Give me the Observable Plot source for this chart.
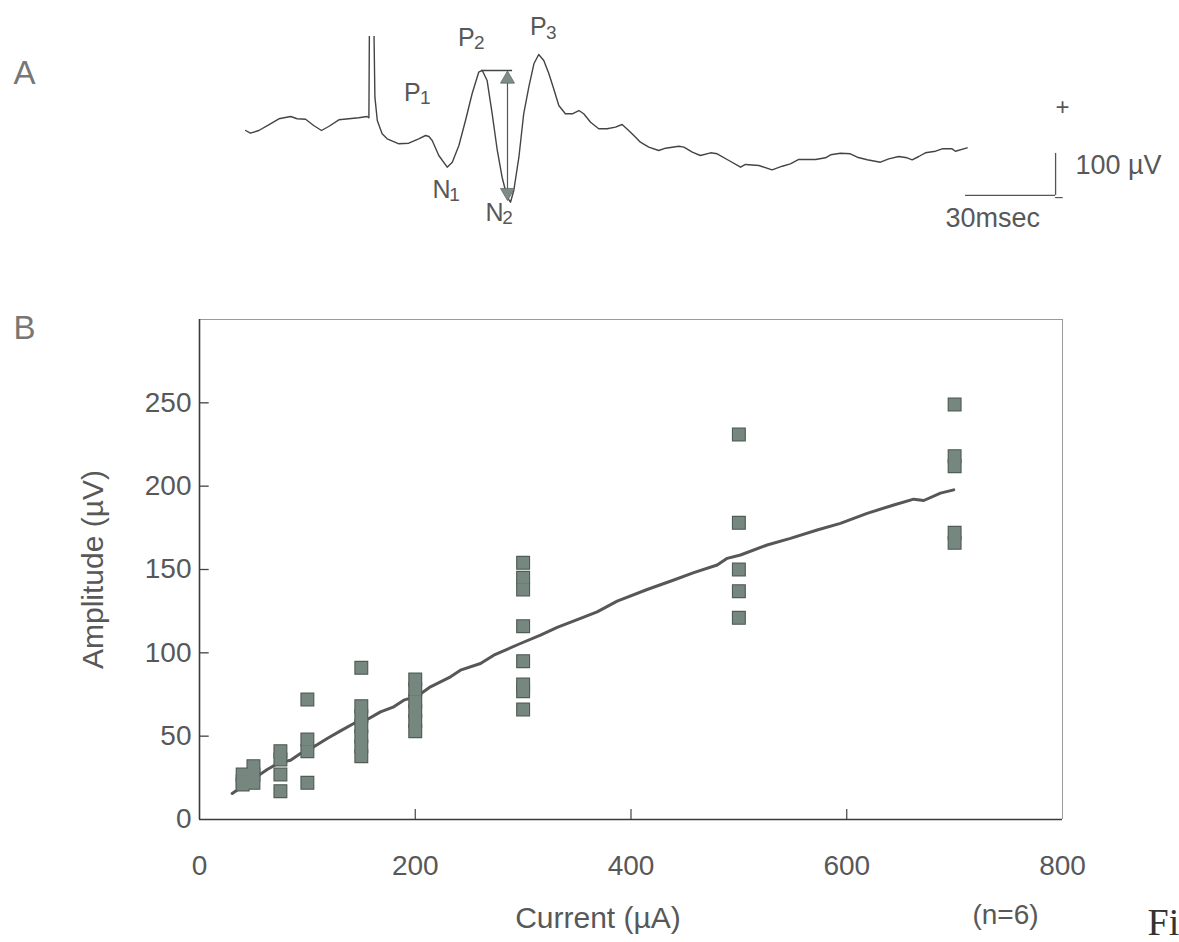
<!DOCTYPE html>
<html><head><meta charset="utf-8">
<script src="https://cdn.jsdelivr.net/npm/d3@7"></script>
<script src="https://cdn.jsdelivr.net/npm/@observablehq/plot@0.6"></script>
<style>
html,body{margin:0;padding:0;background:#fff;}
#fig{position:relative;width:1179px;height:942px;overflow:hidden;background:#fff;}
#fig svg{position:absolute;left:0;}
</style></head><body><div id="fig"></div>
<script>
// ---------- Panel A: evoked potential trace (time in ms, voltage in µV) ----------
const traceTime = [
  0.7, 2.3, 5.1, 8.4, 11.8, 15.7, 17.9, 20.7, 23.4, 26.0,
  28.4, 31.8, 35.1, 38.4, 41.2, 41.8, 42.0, 43.4, 43.8, 44.6,
  46.2, 47.9, 51.8, 55.1, 58.4, 60.7, 61.8, 62.9, 65.1, 67.9,
  69.6, 71.8, 74.0, 76.2, 78.4, 79.6, 81.2, 82.9, 84.6, 86.2,
  87.9, 89.0, 90.1, 91.8, 93.4, 95.1, 96.8, 98.4, 100.1, 101.8,
  103.4, 105.1, 107.3, 109.6, 111.8, 113.4, 115.7, 118.4, 121.2, 124.0,
  126.2, 128.4, 130.7, 132.3, 135.1, 138.4, 140.7, 145.1, 146.8, 149.6,
  152.3, 155.7, 157.9, 161.8, 165.7, 167.3, 171.8, 176.2, 179.6, 182.3,
  185.1, 190.7, 194.0, 195.7, 199.0, 202.3, 204.6, 207.9, 212.3, 215.1,
  218.4, 221.2, 222.9, 225.1, 227.3, 230.7, 232.9, 236.2, 237.3, 241.2
];
const traceVolt = [
  47.6, 41.2, 47.6, 61.2, 75.5, 81.0, 75.5, 74.5, 59.5, 47.6,
  57.1, 73.1, 75.5, 77.9, 81.0, 77.9, 330, 330, 126.9, 71.4,
  39.8, 27.9, 16.0, 17.4, 27.9, 35.7, 33.3, 23.8, -11.9, -39.8,
  -27.9, 11.9, 71.4, 135.0, 186.4, 190.5, 166.7, 87.4, 0, -63.6,
  -111.2, -123.1, -95.2, -16.0, 87.4, 150.7, 206.4, 228.6, 214.3, 182.6,
  146.9, 107.1, 87.4, 87.4, 95.2, 87.4, 67.4, 51.7, 51.7, 55.5,
  61.9, 47.6, 31.7, 19.8, 7.9, 0, 5.5, 10.2, 7.9, -4.0,
  -11.9, -5.5, -7.9, -23.8, -39.8, -33.3, -35.7, -46.0, -37.4, -31.7,
  -21.4, -21.4, -17.4, -10.2, -6.4, -7.9, -16.0, -22.1, -27.9, -19.8,
  -14.3, -17.4, -22.1, -14.3, -5.5, -1.7, 4.0, 4.0, -1.7, 6.4
];
// peak labels
const peakLetters = ["P", "P", "P", "N", "N"];
const peakSubs    = ["1", "2", "3", "1", "2"];
const peakTime    = [56.3, 74.3, 98.3, 66.0, 83.7];
const peakVolt    = [138, 269, 293, -95, -148];
// N2-P2 amplitude marker
const ampTime = 88.0;
const ampTopVolt = 190.5;
const ampBottomVolt = -119;
const capTime = [79.3, 89.7];
// scale bar: 30 ms, 100 µV
const barTime = [240.7, 270.7];
const barVolt = [-107, -7];

// ---------- Panel B: amplitude vs current ----------
const currents = [40, 50, 75, 100, 150, 200, 300, 500, 700];
const amplitudes = [
  [27, 23, 21],
  [32, 27, 22],
  [41, 36, 27, 17],
  [72, 48, 41, 22],
  [91, 68, 62, 56, 50, 44, 38],
  [84, 78, 71, 65, 59, 53],
  [154, 145, 138, 116, 95, 81, 77, 66],
  [231, 178, 150, 137, 121],
  [249, 218, 212, 172, 166]
];
const fitCurrent = [30.3, 45.7, 62.8, 73.5, 84.4, 93.6, 106, 118.4, 130.7, 143, 155.5, 167.8, 180.1, 189.4, 201.8, 214.1, 232.7, 241.9, 260.5, 272.8, 297.5, 316.1, 331.6, 353.2, 368.6, 387.2, 415, 439.7, 458.2, 479.9, 489.2, 501.5, 526.2, 547.8, 572.6, 594.1, 618.9, 643.6, 662.1, 671.4, 686.9, 699.2];
const fitAmplitude = [15.6, 22.5, 30, 34, 35.6, 39.6, 43.6, 48.6, 53.2, 57.6, 60, 64.6, 67.6, 71.6, 74, 79.6, 85.6, 89.6, 93.6, 98.6, 105.6, 110.6, 115.3, 120.7, 124.6, 131, 138, 143.7, 148.1, 152.7, 156.7, 158.7, 164.7, 168.7, 173.7, 177.7, 183.7, 188.7, 192.2, 191.4, 195.8, 197.8];
const xTickLabels = [0, 200, 400, 600, 800];
const yTickLabels = [0, 50, 100, 150, 200, 250];
const xInnerTicks = [200, 400, 600];
const yInnerTicks = [50, 100, 150, 200, 250];

// ---------- build ----------
const SANS = "'Liberation Sans', Arial, Helvetica, sans-serif";
const SERIF = "'Liberation Serif', 'Times New Roman', serif";
const TEXT = "#585858";
const SQ_FILL = "#76877f";
const SQ_STROKE = "#505c56";

const trace = traceTime.map((t, i) => ({t, v: traceVolt[i]}));
const peaks = peakLetters.map((l, i) => ({l, s: peakSubs[i], t: peakTime[i], v: peakVolt[i]}));

function triSymbol(dir) {
  return {draw(ctx, size) {
    const s = Math.sqrt(size * 4 / Math.sqrt(3)), h = s * Math.sqrt(3) / 2;
    ctx.moveTo(0, dir * -2 * h / 3);
    ctx.lineTo(s / 2, dir * h / 3);
    ctx.lineTo(-s / 2, dir * h / 3);
    ctx.closePath();
  }};
}

const plotA = Plot.plot({
  width: 1179, height: 260,
  marginTop: 36, marginBottom: 47, marginLeft: 243, marginRight: 211,
  x: {domain: [0, 241.67], axis: null},
  y: {domain: [-150, 271.4], axis: null},
  style: {fontFamily: SANS, background: "transparent", color: TEXT},
  marks: [
    Plot.line(trace, {x: "t", y: "v", stroke: "#444", strokeWidth: 1.4, clip: true}),
    Plot.ruleY([ampTopVolt], {x1: capTime[0], x2: capTime[1], stroke: "#444", strokeWidth: 1.5}),
    Plot.ruleX([ampTime], {y1: ampTopVolt - 20, y2: ampBottomVolt + 20, stroke: "#555", strokeWidth: 1.2}),
    Plot.dot([{t: ampTime, v: 170}], {x: "t", y: "v", symbol: triSymbol(1), r: 5.2, fill: "#7d8c85", stroke: "#5f6b65", strokeWidth: 0.8}),
    Plot.dot([{t: ampTime, v: -100}], {x: "t", y: "v", symbol: triSymbol(-1), r: 5.2, fill: "#7d8c85", stroke: "#5f6b65", strokeWidth: 0.8}),
    Plot.text(peaks, {x: "t", y: "v", text: "l", fontSize: 25, fill: TEXT}),
    Plot.text(peaks, {x: "t", y: "v", text: "s", fontSize: 19, dx: 13, dy: 5, fill: TEXT}),
    // scale bar
    Plot.ruleY([barVolt[0]], {x1: barTime[0], x2: barTime[1], stroke: "#555", strokeWidth: 1.3}),
    Plot.ruleX([barTime[1]], {y1: barVolt[0], y2: barVolt[1], stroke: "#555", strokeWidth: 1.3}),
    Plot.text(["30msec"], {x: 234, y: -162, textAnchor: "start", fontSize: 27, fill: TEXT}),
    Plot.text(["100 \u00b5V"], {x: 277.3, y: -35.7, textAnchor: "start", fontSize: 27, fill: TEXT}),
    Plot.text(["+"], {x: 273, y: 102, fontSize: 24, fill: TEXT}),
    Plot.text(["\u2212"], {x: 271.7, y: -113, fontSize: 16, fill: TEXT}),
    Plot.text(["A"], {frameAnchor: "top-left", dx: -230, dy: 24, textAnchor: "start", fontSize: 33, fill: "#777"})
  ]
});
plotA.style.top = "0px";

const points = currents.flatMap((c, i) => amplitudes[i].map(a => ({c, a})));
const fit = fitCurrent.map((c, i) => ({c, a: fitAmplitude[i]}));

const plotB = Plot.plot({
  width: 1179, height: 682,
  marginTop: 59, marginBottom: 123, marginLeft: 199, marginRight: 117,
  x: {domain: [0, 800]},
  y: {domain: [0, 300]},
  style: {fontFamily: SANS, background: "transparent", color: TEXT},
  marks: [
    Plot.axisY({ticks: yTickLabels, tickSize: 0, tickPadding: 8, fontSize: 28, label: null}),
    Plot.axisX({ticks: xTickLabels, tickSize: 0, tickPadding: 36, fontSize: 28, label: null}),
    Plot.ruleY([300], {stroke: "#9a9a9a", strokeWidth: 1}),
    Plot.ruleX([800], {stroke: "#9a9a9a", strokeWidth: 1}),
    Plot.ruleX([0], {stroke: "#3a3a3a", strokeWidth: 1.6}),
    Plot.ruleY([0], {stroke: "#3a3a3a", strokeWidth: 1.6}),
    Plot.ruleY(yInnerTicks, {y: d => d, x1: 0, x2: 9, stroke: "#444", strokeWidth: 1.3}),
    Plot.ruleX(xInnerTicks, {x: d => d, y1: 0, y2: 6, stroke: "#444", strokeWidth: 1.2}),
    Plot.line(fit, {x: "c", y: "a", stroke: "#575757", strokeWidth: 3, curve: "linear"}),
    // squares: outline layer beneath, fill layer on top so stacked squares merge into bars
    Plot.dot(points, {x: "c", y: "a", symbol: "square", r: 7.2, fill: SQ_STROKE, stroke: SQ_STROKE, strokeWidth: 1.2}),
    Plot.dot(points, {x: "c", y: "a", symbol: "square", r: 6.6, fill: SQ_FILL}),
    Plot.text(["Amplitude (\u00b5V)"], {frameAnchor: "left", textAnchor: "middle", lineAnchor: "middle", rotate: -90, dx: -106, fontSize: 30, fill: TEXT}),
    Plot.text(["Current (\u00b5A)"], {frameAnchor: "bottom", textAnchor: "middle", lineAnchor: "middle", dx: -33, dy: 99, fontSize: 30, fill: TEXT}),
    Plot.text(["(n=6)"], {frameAnchor: "bottom-right", textAnchor: "middle", lineAnchor: "middle", dx: -57, dy: 96, fontSize: 28, fill: TEXT}),
    Plot.text(["Fi"], {frameAnchor: "bottom-right", textAnchor: "start", lineAnchor: "middle", dx: 85, dy: 103, fontSize: 38, fontFamily: SERIF, fill: "#333"}),
    Plot.text(["B"], {frameAnchor: "top-left", dx: -186, dy: -4, textAnchor: "start", fontSize: 33, fill: "#777"})
  ]
});
plotB.style.top = "260px";

const fig = document.getElementById("fig");
fig.appendChild(plotA);
fig.appendChild(plotB);
</script>
</body></html>
